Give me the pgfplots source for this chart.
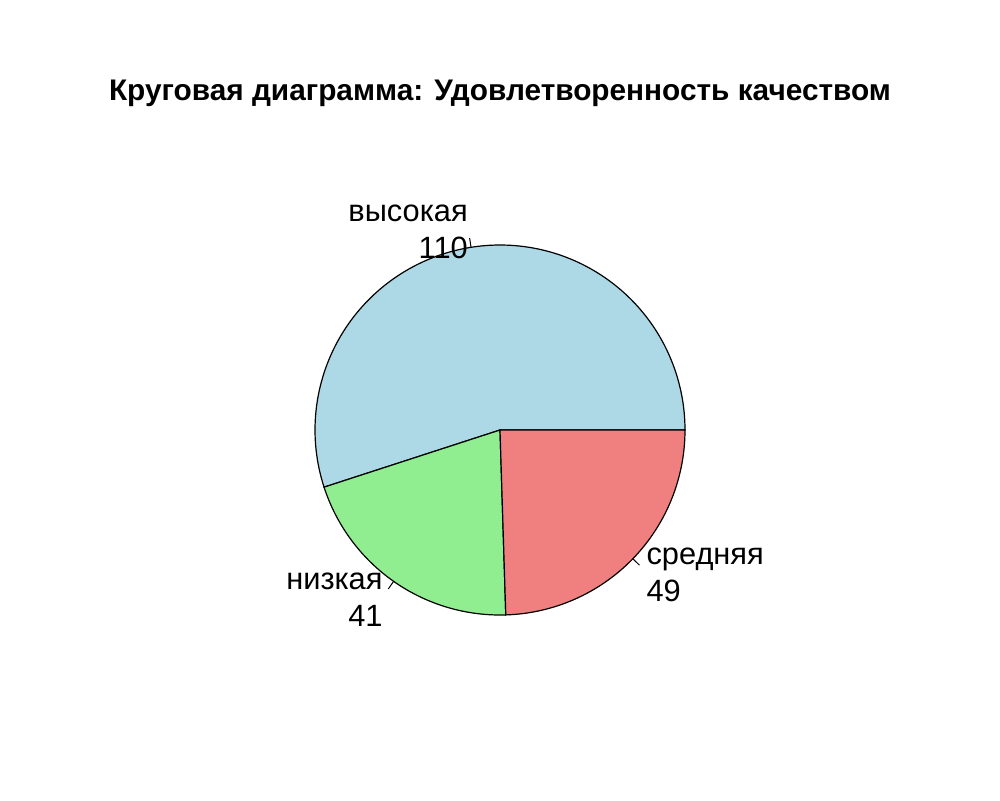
\documentclass[border=0pt]{standalone}
\usepackage{pgfplots}
\usepackage{pgfplotstable}
\pgfplotsset{compat=1.18}
\usepackage{fontspec}
\setmainfont{Liberation Sans}
\definecolor{pieblue}{RGB}{173,216,230}
\definecolor{piegreen}{RGB}{144,238,144}
\definecolor{piered}{RGB}{240,128,128}
\pgfplotstableread{
idx value
0 110
1 41
2 49
}\piedata
\begin{document}
\begin{tikzpicture}
\pgfplotstablegetelem{0}{value}\of\piedata \let\vA\pgfplotsretval
\pgfplotstablegetelem{1}{value}\of\piedata \let\vB\pgfplotsretval
\pgfplotstablegetelem{2}{value}\of\piedata \let\vC\pgfplotsretval
\pgfmathsetmacro\tot{\vA+\vB+\vC}
\pgfmathsetmacro\angA{360*(\vA/\tot)}
\pgfmathsetmacro\angB{\angA+360*(\vB/\tot)}
\pgfmathsetmacro\midA{\angA/2}
\pgfmathsetmacro\midB{(\angA+\angB)/2}
\pgfmathsetmacro\midC{(\angB+360)/2}
\begin{axis}[
  width=500pt, height=400pt, scale only axis,
  xmin=0, xmax=1000, ymin=0, ymax=800,
  hide axis, clip=false,
]
\path (axis cs:0,0) rectangle (axis cs:1000,800);
\addplot[fill=pieblue, draw=black, line width=0.6pt, domain=0:\angA, samples=150]
  ({500+185*cos(x)},{370+185*sin(x)}) -- (axis cs:500,370) -- cycle;
\addplot[fill=piegreen, draw=black, line width=0.6pt, domain=\angA:\angB, samples=80]
  ({500+185*cos(x)},{370+185*sin(x)}) -- (axis cs:500,370) -- cycle;
\addplot[fill=piered, draw=black, line width=0.6pt, domain=\angB:360, samples=80]
  ({500+185*cos(x)},{370+185*sin(x)}) -- (axis cs:500,370) -- cycle;
% label ticks
\draw[line width=0.5pt] (axis cs:{500+185*cos(\midA)},{370+185*sin(\midA)}) -- (axis cs:{500+194.25*cos(\midA)},{370+194.25*sin(\midA)});
\draw[line width=0.5pt] (axis cs:{500+185*cos(\midB)},{370+185*sin(\midB)}) -- (axis cs:{500+194.25*cos(\midB)},{370+194.25*sin(\midB)});
\draw[line width=0.5pt] (axis cs:{500+185*cos(\midC)},{370+185*sin(\midC)}) -- (axis cs:{500+194.25*cos(\midC)},{370+194.25*sin(\midC)});
\tikzset{lbl/.style={inner sep=0pt, font=\fontsize{15.4}{18.5}\selectfont}}
\node[lbl, anchor=east, align=right] at (axis cs:{500+203.5*cos(\midA)},{367+203.5*sin(\midA)}) {высокая\\110};
\node[lbl, anchor=east, align=right] at (axis cs:{500+203.5*cos(\midB)},{367+203.5*sin(\midB)}) {низкая\\41};
\node[lbl, anchor=west, align=left] at (axis cs:{500+203.5*cos(\midC)},{367+203.5*sin(\midC)}) {средняя\\49};
\node[anchor=base, inner sep=0pt, font=\fontsize{14.9}{17}\selectfont\bfseries] at (axis cs:500,699) {Круговая диаграмма: Удовлетворенность качеством};
\end{axis}
\end{tikzpicture}
\end{document}
